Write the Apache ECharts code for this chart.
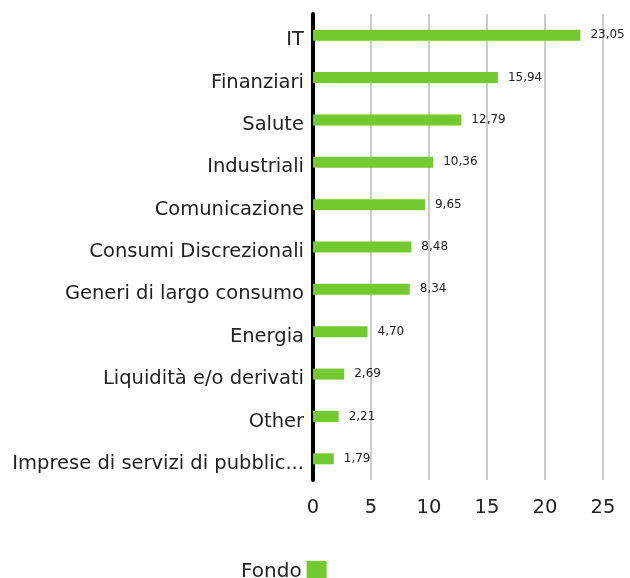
<!DOCTYPE html>
<html><head><meta charset="utf-8">
<script src="https://cdn.jsdelivr.net/npm/echarts@6/dist/echarts.min.js"></script>
<style>html,body{margin:0;padding:0;background:#fff}#c{width:630px;height:578px}</style>
</head><body><div id="c"></div>
<script>
const categories = ["IT","Finanziari","Salute","Industriali","Comunicazione","Consumi Discrezionali","Generi di largo consumo","Energia","Liquidità e/o derivati","Other","Imprese di servizi di pubblica utilità"];
const fondo = [23.05,15.94,12.79,10.36,9.65,8.48,8.34,4.70,2.69,2.21,1.79];
const seriesName = "Fondo";
const xTicks = [0,5,10,15,20,25];

const FONT = 'DejaVu Sans';
const chart = echarts.init(document.getElementById('c'), null, {renderer:'canvas'});
chart.setOption({
  animation:false,
  textStyle:{fontFamily:FONT},
  grid:{left:313, right:27, top:14, bottom:98},
  legend:{
    data:[seriesName], top:556, left:236, align:'right',
    itemWidth:20, itemHeight:21, itemGap:6,
    textStyle:{fontSize:20, color:'#222', fontFamily:FONT},
    icon:'rect'
  },
  xAxis:{
    type:'value', min:xTicks[0], max:xTicks[xTicks.length-1], interval:5,
    axisLine:{show:false}, axisTick:{show:false},
    splitLine:{show:true, lineStyle:{color:'#cccccc', width:2}},
    axisLabel:{fontSize:19.5, color:'#222', margin:18, fontFamily:FONT}
  },
  yAxis:{
    type:'category', data:categories, inverse:true,
    axisLine:{show:true, lineStyle:{color:'#000', width:4}},
    axisTick:{show:false},
    axisLabel:{fontSize:19.5, color:'#222', margin:9, width:296, overflow:'truncate', ellipsis:'...', fontFamily:FONT, verticalAlign:'top', lineHeight:10}
  },
  series:[{
    name:seriesName, type:'bar', data:fondo, barWidth:11,
    itemStyle:{color:'#73c930'},
    label:{show:true, position:'right', distance:10, fontSize:12, color:'#222', fontFamily:FONT,
      formatter:p=>p.value.toFixed(2).replace('.',',')}
  }]
});
</script></body></html>
